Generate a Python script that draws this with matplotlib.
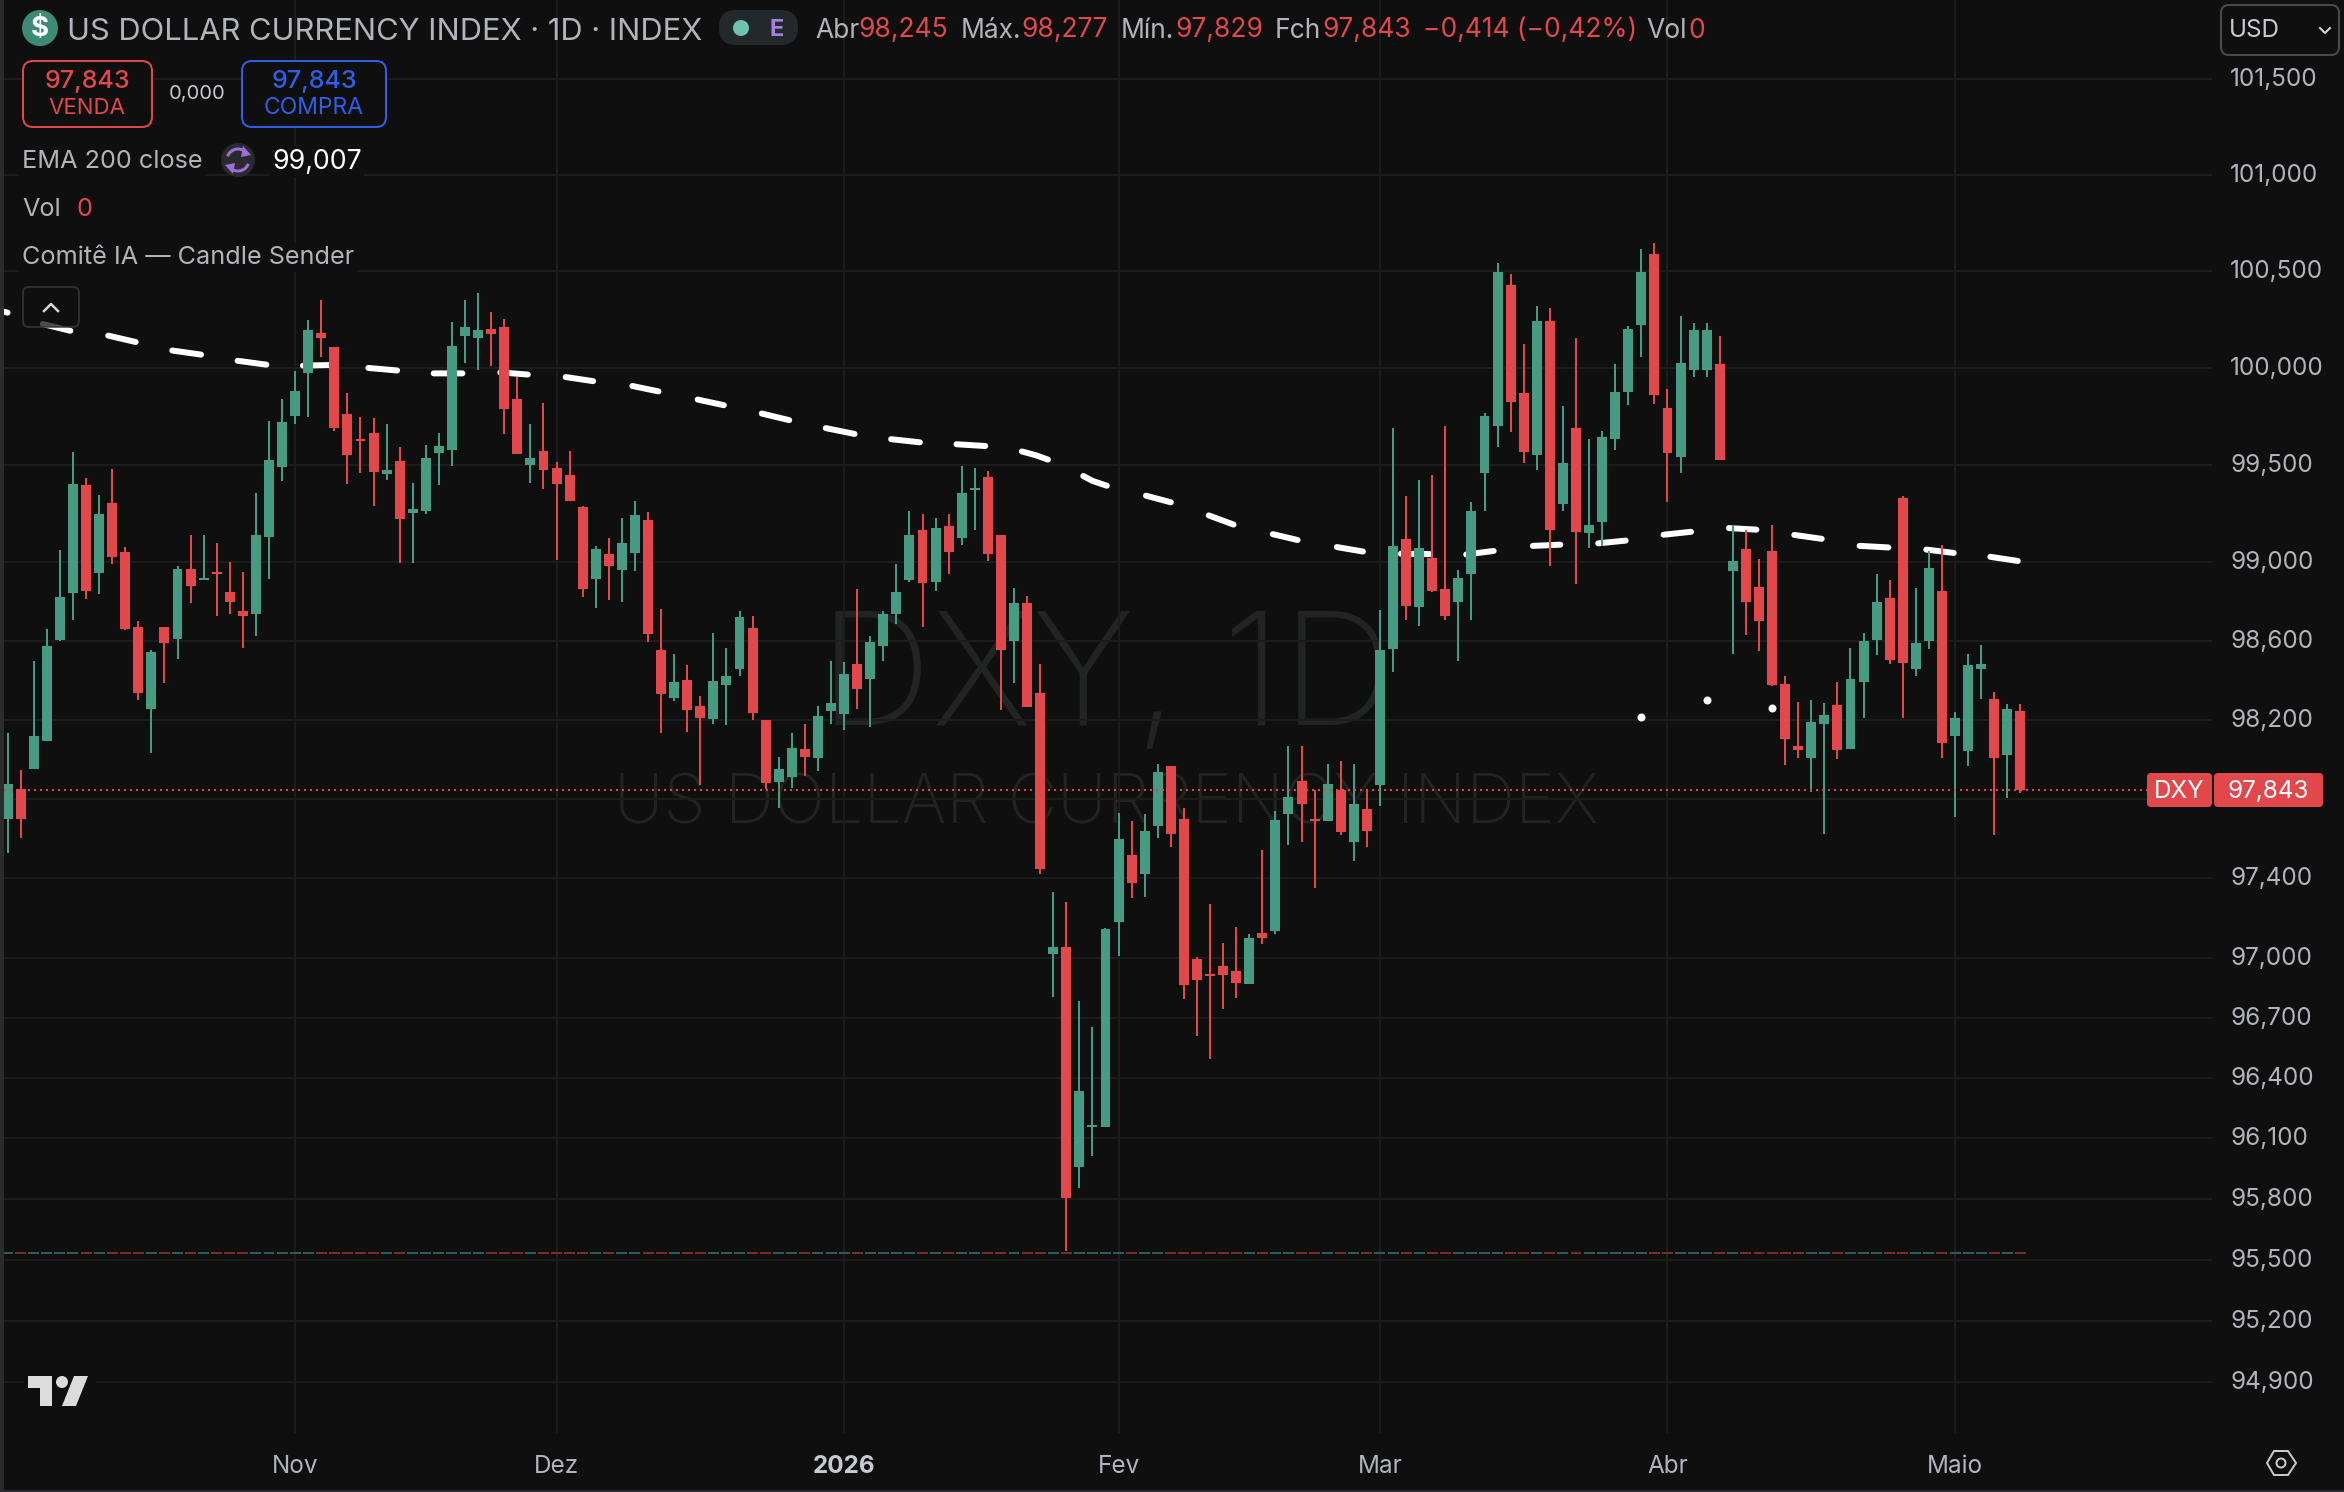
#!/usr/bin/env python3
"""Dark DXY daily candlestick chart with EMA overlay."""

import numpy as np
import matplotlib
matplotlib.use("Agg")
import matplotlib.pyplot as plt
from matplotlib.patches import Circle, FancyBboxPatch, Polygon, Rectangle, Arc
from matplotlib.ticker import NullLocator, NullFormatter
from matplotlib.transforms import Affine2D

W, H = 2344, 1492

opens = [
    97.698, 97.850, 97.948, 98.091, 98.606, 98.841, 99.397, 98.943, 99.305, 99.055,
    98.672, 98.254, 98.672, 98.611, 98.968, 98.912, 98.948, 98.846, 98.749, 98.734,
    99.131, 99.488, 99.748, 99.973, 100.177, 100.105, 99.759, 99.631, 99.662, 99.453,
    99.519, 99.254, 99.264, 99.560, 99.575, 100.162, 100.151, 100.197, 100.207, 99.840,
    99.499, 99.570, 99.483, 99.447, 99.284, 98.917, 99.045, 98.963, 99.050, 99.218,
    98.555, 98.310, 98.402, 98.269, 98.203, 98.377, 98.458, 98.667, 98.198, 97.882,
    97.907, 98.050, 98.004, 98.244, 98.229, 98.484, 98.407, 98.575, 98.734, 98.912,
    99.167, 98.897, 99.187, 99.126, 99.371, 99.437, 99.142, 98.601, 98.790, 98.336,
    97.018, 97.052, 95.956, 96.155, 96.155, 97.177, 97.517, 97.422, 97.661, 97.965,
    97.697, 96.994, 96.919, 96.958, 96.933, 96.869, 97.123, 97.132, 97.722, 97.891,
    97.697, 97.686, 97.846, 97.581, 97.746, 97.868, 98.558, 99.117, 98.774, 99.020,
    98.862, 98.799, 98.938, 99.456, 99.697, 100.428, 99.869, 99.552, 100.240, 99.297,
    99.691, 99.148, 99.205, 99.634, 99.875, 100.218, 100.587, 99.793, 99.542, 99.989,
    99.989, 100.018, 98.954, 99.066, 98.875, 99.056, 98.380, 98.068, 98.005, 98.178,
    98.275, 98.050, 98.392, 98.606, 98.820, 99.330, 98.458, 98.601, 98.851, 98.117,
    98.040, 98.458, 98.305, 98.020, 98.245,
]
closes = [
    97.875, 97.698, 98.116, 98.575, 98.825, 99.402, 98.851, 99.249, 99.029, 98.662,
    98.336, 98.545, 98.591, 98.968, 98.881, 98.921, 98.938, 98.795, 98.728, 99.142,
    99.524, 99.718, 99.881, 100.192, 100.151, 99.687, 99.550, 99.621, 99.463, 99.473,
    99.223, 99.274, 99.534, 99.595, 100.111, 100.207, 100.192, 100.172, 99.784, 99.555,
    99.534, 99.473, 99.402, 99.315, 98.866, 99.070, 98.983, 99.101, 99.244, 98.632,
    98.331, 98.392, 98.249, 98.208, 98.397, 98.422, 98.723, 98.234, 97.877, 97.948,
    98.055, 98.009, 98.218, 98.285, 98.433, 98.356, 98.596, 98.734, 98.846, 99.142,
    98.892, 99.177, 99.055, 99.356, 99.381, 99.045, 98.555, 98.790, 98.264, 97.447,
    97.052, 95.806, 96.335, 96.166, 97.143, 97.597, 97.373, 97.636, 97.935, 97.622,
    96.864, 96.888, 96.908, 96.913, 96.874, 97.099, 97.099, 97.691, 97.810, 97.775,
    97.686, 97.875, 97.631, 97.775, 97.636, 98.554, 99.081, 98.779, 99.071, 98.856,
    98.728, 98.922, 99.260, 99.752, 100.494, 99.824, 99.567, 100.240, 99.164, 99.510,
    99.154, 99.193, 99.644, 99.875, 100.198, 100.494, 99.859, 99.558, 100.024, 100.193,
    100.193, 99.522, 99.005, 98.795, 98.703, 98.374, 98.103, 98.046, 98.186, 98.224,
    98.045, 98.407, 98.601, 98.795, 98.504, 98.489, 98.591, 98.973, 98.081, 98.208,
    98.479, 98.484, 98.004, 98.254, 97.843,
]
highs = [
    98.130, 97.946, 98.499, 98.662, 99.065, 99.565, 99.432, 99.346, 99.478, 99.080,
    98.703, 98.555, 98.672, 98.983, 99.142, 99.142, 99.101, 99.004, 98.948, 99.356,
    99.723, 99.840, 99.983, 100.248, 100.350, 100.105, 99.871, 99.743, 99.738, 99.708,
    99.590, 99.407, 99.600, 99.662, 100.238, 100.350, 100.386, 100.289, 100.253, 99.952,
    99.708, 99.815, 99.514, 99.570, 99.289, 99.085, 99.126, 99.228, 99.315, 99.259,
    98.764, 98.535, 98.479, 98.320, 98.642, 98.565, 98.754, 98.728, 98.198, 98.009,
    98.132, 98.178, 98.269, 98.499, 98.494, 98.866, 98.626, 98.754, 98.989, 99.264,
    99.249, 99.228, 99.249, 99.493, 99.483, 99.468, 99.142, 98.871, 98.830, 98.484,
    97.332, 97.282, 96.783, 96.654, 97.148, 97.725, 97.686, 97.722, 97.974, 97.965,
    97.755, 97.002, 97.268, 97.074, 97.152, 97.118, 97.542, 97.736, 98.065, 98.065,
    97.846, 97.974, 97.990, 97.974, 97.841, 98.758, 99.691, 99.338, 99.422, 99.446,
    99.701, 98.962, 99.307, 99.767, 100.541, 100.485, 100.120, 100.320, 100.310, 99.803,
    100.151, 99.630, 99.675, 100.018, 100.214, 100.612, 100.643, 99.891, 100.269, 100.228,
    100.228, 100.161, 99.189, 99.167, 99.015, 99.193, 98.421, 98.287, 98.297, 98.285,
    98.392, 98.565, 98.642, 98.938, 98.912, 99.341, 98.871, 99.060, 99.091, 98.239,
    98.535, 98.576, 98.341, 98.280, 98.277,
]
lows = [
    97.525, 97.601, 97.948, 98.091, 98.597, 98.705, 98.815, 98.836, 98.989, 98.657,
    98.300, 98.030, 98.387, 98.509, 98.790, 98.912, 98.728, 98.734, 98.565, 98.626,
    98.917, 99.417, 99.708, 99.743, 100.054, 99.672, 99.402, 99.458, 99.289, 99.422,
    98.994, 98.994, 99.249, 99.397, 99.493, 100.024, 99.988, 100.009, 99.657, 99.555,
    99.407, 99.376, 99.014, 99.315, 98.825, 98.769, 98.810, 98.795, 98.958, 98.596,
    98.132, 98.295, 98.137, 97.867, 98.178, 98.172, 98.422, 98.198, 97.851, 97.754,
    97.856, 97.912, 97.938, 98.178, 98.147, 98.254, 98.162, 98.499, 98.683, 98.897,
    98.672, 98.856, 98.938, 99.091, 99.167, 99.009, 98.249, 98.387, 98.264, 97.422,
    96.803, 95.543, 95.856, 96.011, 96.155, 97.008, 97.298, 97.307, 97.600, 97.556,
    96.794, 96.609, 96.495, 96.744, 96.799, 96.869, 97.068, 97.118, 97.567, 97.581,
    97.351, 97.686, 97.617, 97.487, 97.556, 97.764, 98.440, 98.707, 98.677, 98.846,
    98.707, 98.497, 98.707, 99.260, 99.593, 99.669, 99.510, 99.475, 98.983, 99.260,
    98.887, 99.071, 99.083, 99.573, 99.808, 100.053, 99.814, 99.307, 99.456, 99.951,
    99.951, 99.522, 98.532, 98.630, 98.548, 98.368, 97.970, 98.005, 97.833, 97.624,
    98.000, 98.050, 98.208, 98.530, 98.484, 98.208, 98.423, 98.560, 98.004, 97.709,
    97.964, 98.305, 97.617, 97.805, 97.829,
]

# EMA is drawn as separate dashes, nan breaks the line between them
n = np.nan
ema_idx = [-0.4, 0.0, n, 2.7, 4.8, n, 7.7, 9.8, n, 12.6, 14.8, n, 17.6, 19.8, n, 22.6, 24.6, n,
           27.6, 29.8, n, 32.6, 34.8, n, 37.7, 39.8, n, 42.7, 44.8, n, 47.8, 49.8, n, 52.8, 54.8, n,
           57.7, 59.8, n, 62.6, 64.8, n, 67.6, 69.8, n, 72.6, 74.8, n, 77.6, 78.7, 79.6, n,
           82.3, 83.0, 84.1, n, 87.1, 89.0, n, 91.9, 93.8, n, 96.8, 98.7, n, 101.7, 103.7, n,
           106.6, 108.8, n, 111.6, 113.7, n, 116.7, 118.8, n, 121.7, 123.8, n, 126.7, 128.8, n,
           131.7, 133.8, n, 136.7, 138.8, n, 141.7, 143.9, n, 146.8, 148.9, n, 151.7, 153.8]
ema_vals = [100.29, 100.284, n, 100.225, 100.19, n, 100.165, 100.132, n, 100.088, 100.067, n,
            100.035, 100.015, n, 100.01, 100.013, n, 99.998, 99.985, n, 99.97, 99.97, n,
            99.975, 99.964, n, 99.951, 99.93, n, 99.905, 99.877, n, 99.835, 99.806, n,
            99.763, 99.729, n, 99.688, 99.658, n, 99.631, 99.615, n, 99.605, 99.596, n,
            99.568, 99.548, 99.526, n, 99.442, 99.417, 99.392, n, 99.341, 99.307, n,
            99.24, 99.193, n, 99.144, 99.114, n, 99.078, 99.055, n, 99.044, 99.042, n,
            99.04, 99.058, n, 99.084, 99.09, n, 99.097, 99.111, n, 99.141, 99.156, n,
            99.175, 99.167, n, 99.14, 99.12, n, 99.084, 99.076, n, 99.065, 99.048, n,
            99.028, 99.007]

dot_idx = [125, 130, 135]
dot_vals = [98.215, 98.299, 98.256]
vol_level = 95.535
last_close = 97.843

price_ticks = [101.5, 101.0, 100.5, 100.0, 99.5, 99.0, 98.6, 98.2, 97.8, 97.4,
               97.0, 96.7, 96.4, 96.1, 95.8, 95.5, 95.2, 94.9]
price_labels = ["101,500", "101,000", "100,500", "100,000", "99,500", "99,000", "98,600",
                "98,200", "", "97,400", "97,000", "96,700", "96,400", "96,100", "95,800",
                "95,500", "95,200", "94,900"]
month_idx = [22, 42, 64, 85, 105, 127, 149]
month_labels = ["Nov", "Dez", "2026", "Fev", "Mar", "Abr", "Maio"]

BG = "#0f0f0f"
GRID = "#1c1c1c"
RED = "#e2474c"
GREEN = "#489b83"
TEXT = "#b2b4bb"
BLUE = "#2f5fe8"
PX = 0.72  # one image pixel in points at dpi 100

plt.rcParams["font.family"] = ["Inter", "DejaVu Sans"]

fig = plt.figure(figsize=(W / 100, H / 100), dpi=100, facecolor=BG)
# pixel coordinates of the image, y going down
px = Affine2D().scale(1 / W, -1 / H).translate(0, 1) + fig.transFigure

ax = fig.add_axes([4 / W, 1 - 1433 / H, (2212 - 4) / W, 1433 / H], facecolor=BG)
ax.set_yscale("log")

idx = np.arange(len(opens))
o, c, hi, lo = map(np.array, (opens, closes, highs, lows))
cols = [GREEN if cc >= oo else RED for oo, cc in zip(o, c)]
dim_cols = ["#2b5c5a" if cc >= oo else "#7a2b2e" for oo, cc in zip(o, c)]

ax.hlines([vol_level] * len(idx), idx - 0.42, idx + 0.42, colors=dim_cols, lw=2 * PX, zorder=1)
ax.plot(ema_idx, ema_vals, color="white", lw=6 * PX, solid_capstyle="round", zorder=2)
ax.vlines(idx, lo, hi, colors=cols, lw=2 * PX, zorder=3)
ax.bar(idx, np.abs(c - o), bottom=np.minimum(o, c), width=0.76, color=cols, lw=0, zorder=3)
ax.plot(dot_idx, dot_vals, "o", color="white", ms=8 * PX, mew=0, zorder=4)
ax.plot([-0.3, 163.8], [last_close, last_close], color=RED, lw=2 * PX, ls=(0, (1, 2)), zorder=4)

ax.set_xlim(-0.275, 168.66)
ax.set_ylim(94.65, 101.915)
ax.set_xticks(month_idx, month_labels)
ax.set_yticks(price_ticks, price_labels)
ax.yaxis.set_minor_locator(NullLocator())
ax.yaxis.set_minor_formatter(NullFormatter())
ax.yaxis.tick_right()
ax.tick_params(axis="both", length=0, labelcolor=TEXT, labelsize=17.5)
ax.tick_params(axis="y", pad=13)
ax.tick_params(axis="x", pad=16)
# the price labels sit a little above their grid lines
for t in ax.get_yticklabels():
    t.set_transform(t.get_transform() + Affine2D().translate(0, 2))
ax.get_xticklabels()[2].set_fontweight("bold")
ax.get_xticklabels()[2].set_color("#c8cad0")
ax.grid(True, color=GRID, lw=2 * PX)
ax.set_axisbelow(True)
for s in ax.spines.values():
    s.set_visible(False)

# big watermark behind the grid
ax.text(1107, 684, "DXY, 1D", transform=px, ha="center", va="center", color="#222323",
        fontsize=113, fontweight="light", zorder=0.4, clip_on=False)
ax.text(1106, 806, "US DOLLAR CURRENCY INDEX", transform=px, ha="center", va="center", color="#222323",
        fontsize=49, fontweight="light", zorder=0.4, clip_on=False)


def label(x, y, s, color=TEXT, size=19, ha="left", weight="normal", mask=False):
    kw = {"bbox": dict(fc=BG, ec="none", pad=2)} if mask else {}
    fig.text(x, y + 4.5, s, transform=px, color=color, fontsize=size, ha=ha, va="center", fontweight=weight, **kw)


def box(x0, y0, x1, y1, ec, fc=BG, r=10, lw=2, alpha=None):
    fig.add_artist(FancyBboxPatch((x0, y0), x1 - x0, y1 - y0, boxstyle=f"round,pad=0,rounding_size={r}",
                                  transform=px, ec=ec, fc=fc, lw=lw * PX, alpha=alpha))


# window edges
fig.add_artist(Rectangle((0, 0), 4, H, transform=px, fc="#2b2b2d", ec="none"))
fig.add_artist(Rectangle((0, 1490), W, 2, transform=px, fc="#2b2b2d", ec="none"))

# title row
fig.add_artist(Circle((40, 28), 18, transform=px, fc="#3d8b74", ec="none"))
label(40, 24, "$", "white", 20, "center", "bold")
label(67, 27, "US DOLLAR CURRENCY INDEX · 1D · INDEX", TEXT, 22.2)
box(719, 10, 798, 45, "none", "#23282a", r=17, lw=0)
fig.add_artist(Circle((741, 28), 8, transform=px, fc="#6fc2ad", ec="none"))
label(777, 25, "E", "#a67fdc", 17, "center", "bold")

for x, s, col in [(815, "Abr", TEXT), (858, "98,245", RED), (961, "Máx.", TEXT), (1021, "98,277", RED),
                  (1121, "Mín.", TEXT), (1175, "97,829", RED), (1275, "Fch", TEXT), (1322, "97,843", RED),
                  (1423, "−0,414 (−0,42%)", RED), (1646, "Vol", TEXT), (1688, "0", RED)]:
    label(x, 26, s, col, 19.0)

# sell / buy boxes
box(23, 61, 152, 127, RED)
label(87, 77, "97,843", RED, 18, "center", "medium")
label(87, 104, "VENDA", RED, 16, "center")
label(197, 90, "0,000", "#c8cad0", 14.5, "center")
box(242, 61, 386, 127, BLUE)
label(314, 77, "97,843", BLUE, 18, "center", "medium")
label(314, 104, "COMPRA", BLUE, 16.5, "center")

# indicator legend rows
label(22, 157, "EMA 200 close", TEXT, 18.2, mask=True)
fig.add_artist(Circle((238, 160), 17, transform=px, fc="#2a2a2e", ec="none"))
fig.add_artist(Arc((238, 160), 22, 22, theta1=200, theta2=330, transform=px, ec="#9a6fd8", lw=3 * PX))
fig.add_artist(Arc((238, 160), 22, 22, theta1=20, theta2=150, transform=px, ec="#9a6fd8", lw=3 * PX))
fig.add_artist(Polygon([[243, 146], [251, 155], [241, 157]], transform=px, fc="#9a6fd8", ec="none"))
fig.add_artist(Polygon([[233, 174], [225, 165], [235, 163]], transform=px, fc="#9a6fd8", ec="none"))
label(272, 157, "99,007", "white", 19.2, mask=True)
label(22, 205, "Vol", TEXT, 18.2, mask=True)
label(76, 205, "0", RED, 18.2, mask=True)
label(22, 253, "Comitê IA — Candle Sender", TEXT, 18.2, mask=True)
box(23, 287, 79, 327, "#3a3a3c", BG, r=6, alpha=0.75)
fig.add_artist(plt.Line2D([44, 51, 58], [311, 304, 311], transform=px, color="#d8d8d8", lw=2.5 * PX))

# price tag at the right
box(2147, 773, 2212, 807, "none", RED, r=4, lw=0)
box(2214, 773, 2323, 807, "none", RED, r=4, lw=0)
label(2179, 786.5, "DXY", "white", 17.5, "center")
label(2268, 786.5, "97,843", "white", 17.5, "center")

# currency selector
box(2221, 5, 2339, 55, "#4a4a4c", BG, r=8)
label(2229, 26, "USD", "#c8cad0", 17.5)
fig.add_artist(plt.Line2D([2320, 2325, 2330], [28, 33, 28], transform=px, color="#d8d8d8", lw=2 * PX))

# settings hexagon
hex_x = [2267, 2274, 2288, 2296, 2288, 2274]
hex_y = [1463, 1451, 1451, 1463, 1475, 1475]
fig.add_artist(Polygon(list(zip(hex_x, hex_y)), closed=True, transform=px, fc="none", ec="#c8c8c8", lw=2 * PX))
fig.add_artist(Circle((2281, 1463), 4.5, transform=px, fc="none", ec="#c8c8c8", lw=2 * PX))

# TV logo
logo_col = "#dcdcdc"
fig.add_artist(Rectangle((24, 1372), 72, 32, transform=px, fc=BG, ec="none"))
fig.add_artist(Polygon([[28, 1376], [52, 1376], [52, 1406], [40, 1406], [40, 1388], [28, 1388]],
                       transform=px, fc=logo_col, ec="none"))
fig.add_artist(Circle((62, 1382), 6, transform=px, fc=logo_col, ec="none"))
fig.add_artist(Polygon([[74, 1376], [88, 1376], [76, 1406], [62, 1406]], transform=px, fc=logo_col, ec="none"))

fig.savefig("out.png", dpi=100, facecolor=BG)
